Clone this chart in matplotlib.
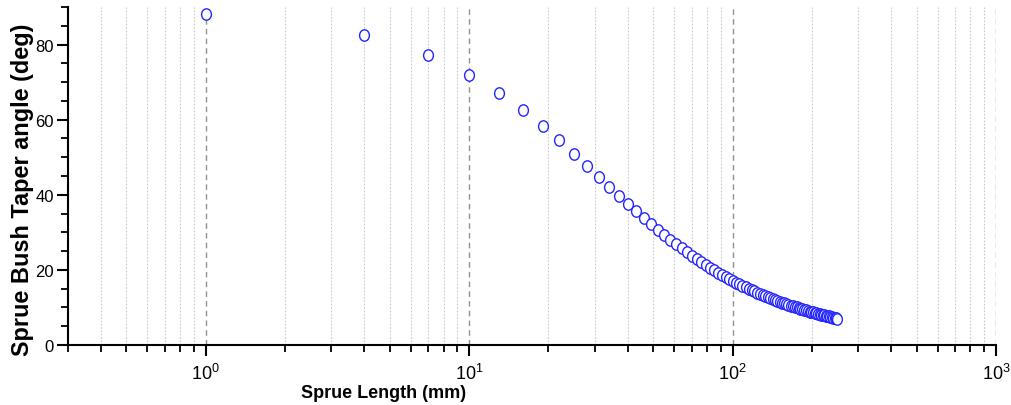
import matplotlib
matplotlib.use("Agg")
import matplotlib.pyplot as plt
from matplotlib import font_manager
from matplotlib.ticker import LogLocator, MultipleLocator, NullFormatter
from matplotlib.path import Path
from matplotlib.transforms import Affine2D

names = {f.name for f in font_manager.fontManager.ttflist}
narrow = 'Liberation Sans Narrow' if 'Liberation Sans Narrow' in names else 'Liberation Sans'

plt.rcParams['font.family'] = ['Liberation Sans', 'DejaVu Sans']
plt.rcParams['mathtext.fontset'] = 'custom'
plt.rcParams['mathtext.rm'] = narrow
plt.rcParams['mathtext.it'] = narrow
plt.rcParams['mathtext.bf'] = narrow + ':bold'

# Data
sprue_length = [1, 4, 7, 10, 13, 16, 19, 22, 25, 28, 31, 34, 37, 40, 43, 46, 49, 52,
                55, 58, 61, 64, 67, 70, 73, 76, 79, 82, 85, 88, 91, 94, 97, 100,
                103, 106, 109, 112, 115, 118, 121, 124, 127, 130, 133, 136, 139,
                142, 145, 148, 151, 154, 157, 160, 163, 166, 169, 172, 175, 178,
                181, 184, 187, 190, 193, 196, 199, 202, 205, 208, 211, 214, 217,
                220, 223, 226, 229, 232, 235, 238, 241, 244, 247, 250]
taper_angle = [88.1, 82.6, 77.2, 72.0, 67.1, 62.6, 58.3, 54.5, 50.9, 47.7, 44.8, 42.2,
               39.8, 37.6, 35.6, 33.8, 32.1, 30.6, 29.2, 28.0, 26.8, 25.7, 24.7, 23.7,
               22.9, 22.1, 21.3, 20.6, 19.9, 19.3, 18.7, 18.1, 17.6, 17.1, 16.6, 16.2,
               15.8, 15.4, 15.0, 14.6, 14.3, 13.9, 13.6, 13.3, 13.0, 12.8, 12.5, 12.2,
               12.0, 11.8, 11.5, 11.3, 11.1, 10.9, 10.7, 10.5, 10.3, 10.2, 10.0, 9.8,
               9.7, 9.5, 9.4, 9.2, 9.1, 8.9, 8.8, 8.7, 8.5, 8.4, 8.3, 8.2, 8.1, 8.0,
               7.9, 7.8, 7.7, 7.6, 7.5, 7.4, 7.3, 7.2, 7.1, 7.0]

x_label = "Sprue Length (mm)"
y_label = "Sprue Bush Taper angle (deg)"

W, H = 1012, 406
fig = plt.figure(figsize=(W / 100, H / 100), dpi=100)
ax = fig.add_axes([68 / W, 1 - 346 / H, (996 - 68) / W, (346 - 8) / H])

ell = Path.unit_circle().transformed(Affine2D().scale(0.86, 1.0))
ax.plot(sprue_length, taper_angle, linestyle='none', marker=ell, markersize=8.2,
        markerfacecolor='white', markeredgecolor='#2424ff', markeredgewidth=1.0,
        zorder=3)

ax.set_xscale('log')
ax.set_xlim(0.3, 1000)
ax.set_ylim(0, 90)

ax.xaxis.set_major_locator(LogLocator(base=10, numticks=10))
ax.xaxis.set_minor_locator(LogLocator(base=10, subs=range(2, 10), numticks=20))
ax.xaxis.set_minor_formatter(NullFormatter())
ax.yaxis.set_major_locator(MultipleLocator(20))
ax.yaxis.set_minor_locator(MultipleLocator(5))

ax.grid(True, which='minor', axis='x', color='#c8c8c8', linestyle=(0, (1.5, 1.5)), linewidth=0.8)
ax.grid(True, which='major', axis='x', color='#909090', linestyle=(0, (4, 3)), linewidth=1.0)
ax.set_axisbelow(True)

for s in ['top', 'right']:
    ax.spines[s].set_visible(False)
for s in ['left', 'bottom']:
    ax.spines[s].set_linewidth(1.5)

ax.tick_params(axis='both', which='major', length=8, width=1.5, direction='out')
ax.tick_params(axis='both', which='minor', length=5, width=1.3, direction='out')
ax.tick_params(axis='x', which='major', pad=5, labelsize=13)
ax.tick_params(axis='y', which='major', pad=2, labelsize=12)

fig.text(384 / W, 1 - 398 / H, x_label, ha='center', va='baseline',
         fontsize=13, fontweight='bold')
fig.text(23 / W, 1 - 190 / H, y_label, ha='center', va='center', rotation=90,
         fontsize=16.9, fontweight='bold')

fig.savefig('out.png', dpi=100)
